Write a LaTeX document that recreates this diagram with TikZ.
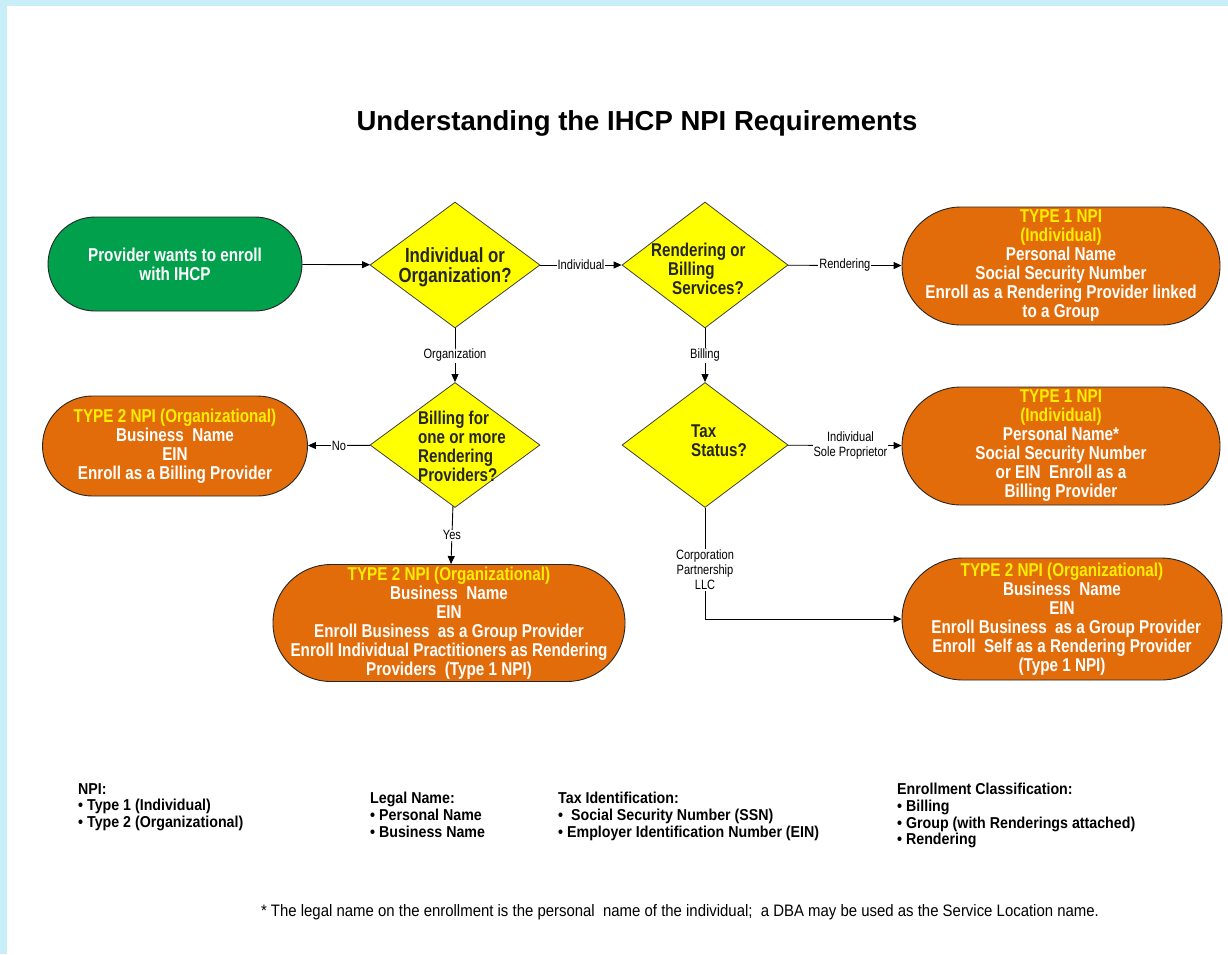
\documentclass[tikz,border=0pt]{standalone}
\usepackage{fontspec}
\setmainfont{Liberation Sans}
\newfontfamily\narrowsf[FakeStretch=0.82]{Liberation Sans}
\newfontfamily\keysf[FakeStretch=0.9]{Liberation Sans}
\usetikzlibrary{shapes.geometric,arrows.meta,positioning}
\definecolor{frameblue}{RGB}{200,238,248}
\definecolor{startgreen}{RGB}{0,160,76}
\definecolor{npiorange}{RGB}{227,108,10}
\definecolor{askyellow}{RGB}{255,255,0}
\definecolor{typeyellow}{RGB}{255,238,0}
\newcommand{\typetag}[1]{\textcolor{typeyellow}{#1}}
\tikzset{
  pill/.style={rectangle,draw=black!85,line width=0.9pt,fill=npiorange,text=white,
    align=center,inner sep=0pt,font=\narrowsf\bfseries\fontsize{18.6}{19}\selectfont},
  ask/.style={diamond,draw=black!75,line width=0.8pt,fill=askyellow,inner sep=0pt},
  asktext/.style={text=black!85,font=\narrowsf\bfseries\fontsize{18.5}{19}\selectfont},
  flow/.style={-{Triangle[length=8pt,width=7pt]},line width=0.9pt},
  cond/.style={fill=white,inner sep=1pt,align=center,
    font=\narrowsf\fontsize{13.5}{15}\selectfont},
  keytext/.style={anchor=north west,align=left,inner sep=0pt,
    font=\keysf\bfseries\fontsize{15.8}{16.7}\selectfont}
}
\begin{document}
\begin{tikzpicture}[x=1pt,y=-1pt]
  \useasboundingbox (0,0) rectangle (1228,954);
  \fill[frameblue] (0,0) rectangle (1228,954);
  \fill[white] (7,6) rectangle (1228,954);

  \node[font=\bfseries\fontsize{27.5}{30}\selectfont] (title) at (637,123)
    {Understanding the IHCP NPI Requirements};

  % main flow
  \node[pill,fill=startgreen,minimum width=254pt,minimum height=94pt,rounded corners=47pt]
    (start) at (175,264) {Provider wants to enroll\\with IHCP};
  \node[ask,minimum width=170pt,minimum height=126pt] (kind) at (455,265) {};
  \node[asktext,align=center,font=\narrowsf\bfseries\fontsize{20.5}{20}\selectfont]
    (kindtext) at (455,267) {Individual or\\Organization?};
  \node[ask,minimum width=166pt,minimum height=126pt] (service) at (705,265) {};
  \node[asktext,align=left,anchor=west,inner sep=0pt] (servicetext) at (651,269)
    {Rendering or\\\hspace*{17pt}Billing\\\hspace*{21pt}Services?};
  \node[ask,minimum width=170pt,minimum height=125pt] (billfor) at (455,445) {};
  \node[asktext,align=left] (billfortext) at (462,446) {Billing for\\one or more\\Rendering\\Providers?};
  \node[ask,minimum width=166pt,minimum height=125pt] (tax) at (705,445) {};
  \node[asktext,align=left] (taxtext) at (719,441) {Tax\\Status?};

  % outcomes
  \node[pill,minimum width=318pt,minimum height=118pt,rounded corners=59pt] (rendering) at (1061,266)
    {\typetag{TYPE 1 NPI}\\\typetag{(Individual)}\\Personal Name\\Social Security Number\\
     Enroll as a Rendering Provider linked\\to a Group};
  \node[pill,minimum width=318pt,minimum height=118pt,rounded corners=59pt] (sole) at (1061,446)
    {\typetag{TYPE 1 NPI}\\\typetag{(Individual)}\\Personal Name*\\Social Security Number\\
     or EIN\ \ Enroll as a\\Billing Provider};
  \node[pill,minimum width=320pt,minimum height=122pt,rounded corners=61pt] (corp) at (1062,619)
    {\typetag{TYPE 2 NPI (Organizational)}\\Business\ \ Name\\EIN\\
     \ \ Enroll Business\ \ as a Group Provider\\Enroll\ \ Self as a Rendering Provider\\(Type 1 NPI)};
  \node[pill,minimum width=265pt,minimum height=100pt,rounded corners=50pt] (billing) at (175,446)
    {\typetag{TYPE 2 NPI (Organizational)}\\Business\ \ Name\\EIN\\Enroll as a Billing Provider};
  \node[pill,minimum width=352pt,minimum height=117pt,rounded corners=58pt] (group) at (449,623)
    {\typetag{TYPE 2 NPI (Organizational)}\\Business\ \ Name\\EIN\\
     Enroll Business\ \ as a Group Provider\\Enroll Individual Practitioners as Rendering\\
     Providers\ \ (Type 1 NPI)};

  \draw[flow] (start) -- (kind);
  \draw[flow] (kind) -- node[cond] {Individual} (service);
  \draw[flow] (service) -- node[cond] {Rendering} (rendering);
  \draw[flow] (kind) -- node[cond] {Organization} (billfor);
  \draw[flow] (service) -- node[cond] {Billing} (tax);
  \draw[flow] (billfor) -- node[cond] {No} (billing);
  \draw[flow] (billfor) -- node[cond] {Yes} (group);
  \draw[flow] (tax) -- node[cond,pos=0.55] {Individual\\Sole Proprietor} (sole);
  \draw[flow] (tax) |- node[cond,pos=0.28] {Corporation\\Partnership\\LLC} (corp);

  % key
  \node[keytext] (keynpi) at (78,783) {NPI:\\\textbullet\ Type 1 (Individual)\\\textbullet\ Type 2 (Organizational)};
  \node[keytext] (keylegal) at (370,792) {Legal Name:\\\textbullet\ Personal Name\\\textbullet\ Business Name};
  \node[keytext] (keytax) at (558,792) {Tax Identification:\\\textbullet\ \ Social\ Security Number (SSN)\\\textbullet\ Employer Identification Number (EIN)};
  \node[keytext] (keyclass) at (897,783) {Enrollment Classification:\\\textbullet\ Billing\\\textbullet\ Group (with Renderings attached)\\\textbullet\ Rendering};

  \node[font=\keysf\fontsize{16.6}{18}\selectfont] (note) at (680,912)
    {* The legal name on the enrollment is the personal\ \ name of the individual;\ \ a DBA may be used as the Service Location name.};
\end{tikzpicture}
\end{document}
